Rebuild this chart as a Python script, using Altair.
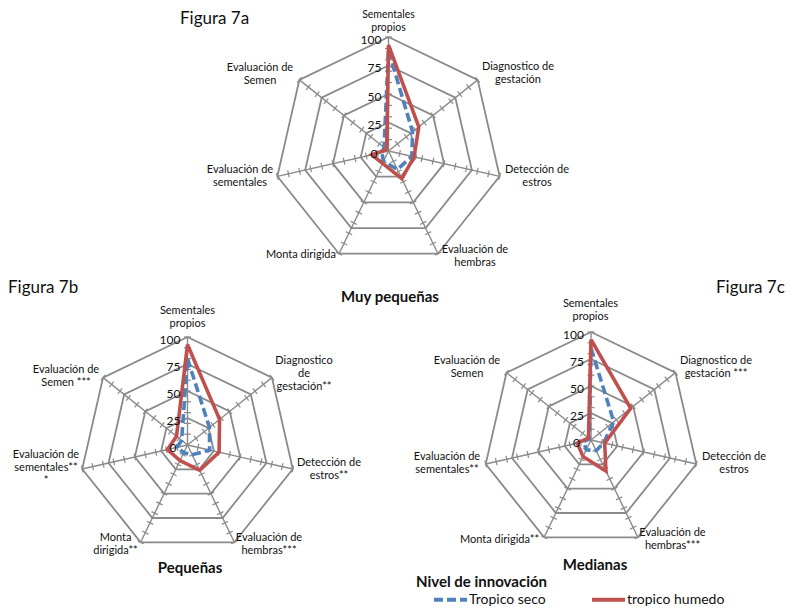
import math
import altair as alt
import pandas as pd

# ---------------- data ----------------
AXES = ["Sementales propios", "Diagnostico de gestación", "Detección de estros",
        "Evaluación de hembras", "Monta dirigida", "Evaluación de sementales",
        "Evaluación de Semen"]
SERIES = ["Tropico seco", "tropico humedo"]

SECO_7A = [88, 27, 21, 18, 10, 6, 5]
HUMEDO_7A = [93, 34, 23, 27, 12, 15, 2]
SECO_7B = [80, 26, 21, 10, 8, 10, 7]
HUMEDO_7B = [93, 38, 30, 26, 16, 19, 13]
SECO_7C = [85, 27, 12, 11, 10, 7, 2]
HUMEDO_7C = [93, 47, 13, 32, 17, 13, 3]

LABELS_7A = ["Sementales\npropios", "Diagnostico de\ngestación", "Detección de\nestros",
             "Evaluación de\nhembras", "Monta dirigida", "Evaluación de\nsementales",
             "Evaluación de\nSemen"]
LABELS_7B = ["Sementales\npropios", "Diagnostico\nde\ngestación**", "Detección de\nestros**",
             "Evaluación de\nhembras***", "Monta\ndirigida**", "Evaluación de\nsementales**\n*",
             "Evaluación de\nSemen ***"]
LABELS_7C = ["Sementales\npropios", "Diagnostico de\ngestación ***", "Detección de\nestros",
             "Evaluación de\nhembras***", "Monta dirigida**", "Evaluación de\nsementales**",
             "Evaluación de\nSemen"]

RINGS = [25, 50, 75, 100]
RING_LABELS = [0, 25, 50, 75, 100]
TICKS = [10, 20, 30, 40, 50, 60, 70, 80, 90, 100]

FIG_TITLES = ["Figura 7a", "Figura 7b", "Figura 7c"]
SUBTITLES = ["Muy pequeñas", "Pequeñas", "Medianas"]
LEGEND_TITLE = "Nivel de innovación"

# ---------------- layout (page pixel positions, font sizes) ----------------
PANELS = {"7a": (388.5, 151, 114), "7b": (187.5, 445, 108), "7c": (591, 440, 108)}
VALUES = {"7a": (SECO_7A, HUMEDO_7A), "7b": (SECO_7B, HUMEDO_7B), "7c": (SECO_7C, HUMEDO_7C)}
LABELS = {"7a": LABELS_7A, "7b": LABELS_7B, "7c": LABELS_7C}
LABEL_POS = {
    "7a": [(388.5, 9.5, 10.5), (518, 61, 11), (537, 164, 11), (475, 244, 11), (301, 249, 11),
           (240, 164, 11), (260, 62, 11)],
    "7b": [(187.5, 305, 11), (304, 355, 11), (329, 457, 11), (269, 532, 11), (115.5, 532, 11),
           (46, 449, 11), (66, 364, 11)],
    "7c": [(590.5, 298, 11), (716, 355, 11), (734, 451, 11), (672.5, 527, 11), (499.5, 534, 11),
           (447, 451, 11), (467, 355, 11)],
}
TITLE_POS = [(180, 24), (8, 293), (716, 293)]
SUB_POS = [(390, 302), (190, 573), (595, 570)]
LEGEND_TITLE_POS = (416, 587)
N = len(AXES)

XS = alt.Scale(domain=[8, 801], nice=False, zero=False)
YS = alt.Scale(domain=[8, 606], nice=False, zero=False, reverse=True)
GRID = "#8a8a8a"
FONT = "Lato"
TXT = "#111111"

# ---------------- tables ----------------
ser_rows, ring_rows, spoke_rows, tick_rows, rlab_rows, lab_rows = [], [], [], [], [], []
for p, (cx, cy, R) in PANELS.items():
    for s, vals in zip(SERIES, VALUES[p]):
        for i in range(N + 1):
            ser_rows.append(dict(panel=p, series=s, idx=i, v=vals[i % N], cx=cx, cy=cy, R=R))
    for r in RINGS:
        for i in range(N + 1):
            ring_rows.append(dict(panel=p, ring=f"{p}-{r}", idx=i, v=r, cx=cx, cy=cy, R=R))
    for i in range(N):
        spoke_rows.append(dict(panel=p, idx=i, v=100, cx=cx, cy=cy, R=R))
        for t in TICKS:
            tick_rows.append(dict(panel=p, idx=i, v=t, cx=cx, cy=cy, R=R))
    for rv in RING_LABELS:
        rlab_rows.append(dict(panel=p, v=rv, label=str(rv), cx=cx, cy=cy, R=R))
    for name, lab, (lx, ly, fs) in zip(AXES, LABELS[p], LABEL_POS[p]):
        lab_rows.append(dict(panel=p, axis=name, label=lab, x=lx, y=ly, fs=fs))


def with_xy(ch):
    return ch.transform_calculate(
        ang="datum.idx * 2 * PI / 7"
    ).transform_calculate(
        x="datum.cx + datum.R * datum.v / 100 * sin(datum.ang)",
        y="datum.cy - datum.R * datum.v / 100 * cos(datum.ang)",
    )


X = lambda f: alt.X(f, scale=XS, axis=None)
Y = lambda f: alt.Y(f, scale=YS, axis=None)

rings = with_xy(alt.Chart(pd.DataFrame(ring_rows))).mark_line(
    color=GRID, strokeWidth=1.8
).encode(x=X("x:Q"), y=Y("y:Q"), detail="ring:N", order="idx:Q")

spokes = with_xy(alt.Chart(pd.DataFrame(spoke_rows))).mark_rule(
    color=GRID, strokeWidth=1.4
).encode(x=X("cx:Q"), y=Y("cy:Q"), x2="x:Q", y2="y:Q")

ticks = with_xy(alt.Chart(pd.DataFrame(tick_rows))).transform_calculate(
    tx1="datum.x - 3.5 * cos(datum.ang)",
    ty1="datum.y - 3.5 * sin(datum.ang)",
    tx2="datum.x + 3.5 * cos(datum.ang)",
    ty2="datum.y + 3.5 * sin(datum.ang)",
).mark_rule(color=GRID, strokeWidth=1.2).encode(
    x=X("tx1:Q"), y=Y("ty1:Q"), x2="tx2:Q", y2="ty2:Q"
)

leg = alt.Legend(
    orient="none", legendX=424, legendY=573, direction="horizontal",
    labelFont=FONT, labelFontSize=14, labelColor=TXT,
    symbolType="stroke", symbolSize=1089, symbolStrokeWidth=4,
    labelOffset=0, columnPadding=38, padding=0,
)

series = with_xy(alt.Chart(pd.DataFrame(ser_rows))).mark_line(
    strokeWidth=3.6, strokeJoin="miter"
).encode(
    x=X("x:Q"),
    y=Y("y:Q"),
    color=alt.Color("series:N", title=None,
                    scale=alt.Scale(domain=SERIES, range=["#4F81BD", "#C0504D"]), legend=leg),
    strokeDash=alt.StrokeDash("series:N", title=None,
                              scale=alt.Scale(domain=SERIES, range=[[9, 4], [1, 0]]), legend=leg),
    detail="panel:N",
    order="idx:Q",
)

ring_labels = alt.Chart(pd.DataFrame(rlab_rows)).transform_calculate(
    lx="datum.cx - (datum.v == 0 ? 11 : 7)",
    ly="datum.cy - datum.R * datum.v / 100 + 2.5",
).mark_text(font=FONT, fontSize=12, color=TXT, align="right", baseline="middle").encode(
    x=X("lx:Q"), y=Y("ly:Q"), text="label:N"
)

axis_labels = alt.Chart(pd.DataFrame(lab_rows)).mark_text(
    font=FONT, color=TXT, align="center", baseline="top",
    lineBreak="\n", lineHeight=13,
).encode(
    x=X("x:Q"), y=Y("y:Q"), text="label:N",
    size=alt.Size("fs:Q", scale=None, legend=None),
)

titles = alt.Chart(pd.DataFrame(
    [dict(t=t, x=x, y=y) for t, (x, y) in zip(FIG_TITLES, TITLE_POS)]
)).mark_text(font=FONT, fontSize=17, color=TXT, align="left", baseline="alphabetic").encode(
    x=X("x:Q"), y=Y("y:Q"), text="t:N"
)

subs = alt.Chart(pd.DataFrame(
    [dict(t=t, x=x, y=y) for t, (x, y) in zip(SUBTITLES, SUB_POS)]
)).mark_text(font=FONT, fontSize=15, fontWeight="bold", color=TXT,
             align="center", baseline="alphabetic").encode(
    x=X("x:Q"), y=Y("y:Q"), text="t:N"
)

leg_title = alt.Chart(pd.DataFrame(
    [dict(t=LEGEND_TITLE, x=LEGEND_TITLE_POS[0], y=LEGEND_TITLE_POS[1])]
)).mark_text(font=FONT, fontSize=15, fontWeight="bold", color=TXT,
             align="left", baseline="alphabetic").encode(
    x=X("x:Q"), y=Y("y:Q"), text="t:N"
)

chart = alt.layer(
    rings, spokes, ticks, series, ring_labels, axis_labels, titles, subs, leg_title
).properties(
    width=793, height=598, padding=0,
    autosize=alt.AutoSizeParams(type="none"),
    background="white",
).configure_view(stroke=None)

chart.save("out.html", embed_options={"renderer": "svg", "actions": False})
